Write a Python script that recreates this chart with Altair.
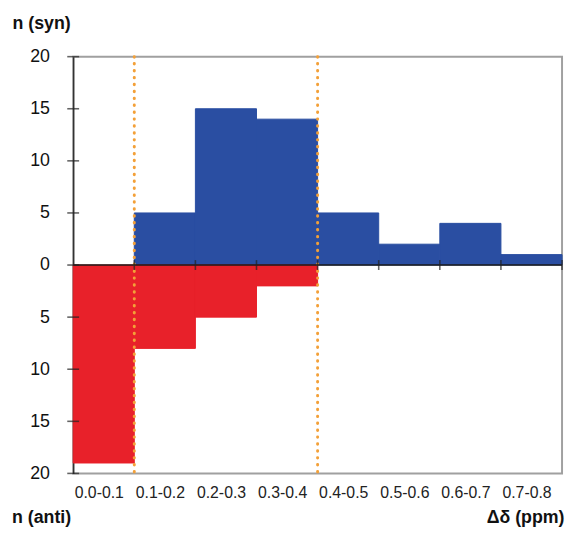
import altair as alt
import pandas as pd

# ---- data ----
bin_lo = [0.0, 0.1, 0.2, 0.3, 0.4, 0.5, 0.6, 0.7]
bin_hi = [0.1, 0.2, 0.3, 0.4, 0.5, 0.6, 0.7, 0.8]
syn = [0, 5, 15, 14, 5, 2, 4, 1]
anti = [19, 8, 5, 2, 0, 0, 0, 0]
dividers = [0.1, 0.4]
y_ticks = [-20, -15, -10, -5, 0, 5, 10, 15, 20]

BLUE = "#2a4ea2"
RED = "#e8212a"
ORANGE = "#f3a038"
FONT = "Liberation Sans"

rows = []
for lo, hi, s, a in zip(bin_lo, bin_hi, syn, anti):
    rows.append({"lo": lo, "hi": hi, "v": s, "series": "syn"})
    rows.append({"lo": lo, "hi": hi, "v": -a, "series": "anti"})
bars_df = pd.DataFrame(rows)
centers = [round((lo + hi) / 2, 3) for lo, hi in zip(bin_lo, bin_hi)]

x_scale = alt.Scale(domain=[bin_lo[0], bin_hi[-1]], nice=False, zero=False)
y_scale = alt.Scale(domain=[y_ticks[0], y_ticks[-1]], nice=False)
c_scale = alt.Scale(domain=["syn", "anti"], range=[BLUE, RED])

x_axis = alt.Axis(
    values=centers,
    labelExpr="format(datum.value - 0.05, '.1f') + '-' + format(datum.value + 0.05, '.1f')",
    ticks=False, domain=False, grid=False,
    labelFont=FONT, labelFontSize=16, labelColor="#222", labelPadding=11,
    labelOffset=-5, labelFlush=False, labelOverlap=False,
    title="Δδ (ppm)", titleFont=FONT, titleFontSize=18, titleFontWeight="bold",
    titleColor="#111", titleX=497, titleY=45, titleAlign="right", titleBaseline="middle",
)
y_axis = alt.Axis(
    values=y_ticks, labelExpr="abs(datum.value)",
    ticks=False, grid=False, domainColor="#333", domainWidth=1.5,
    labelFont=FONT, labelFontSize=18, labelColor="#111", labelPadding=24,
    title="n (syn)", titleFont=FONT, titleFontSize=18, titleFontWeight="bold",
    titleColor="#111", titleAngle=0, titleX=-62, titleY=-33, titleAlign="left",
    titleBaseline="middle",
)

base = alt.Chart(bars_df).transform_filter("datum.v != 0")
bars = base.mark_rect(strokeWidth=1).encode(
    x=alt.X("lo:Q", scale=x_scale, axis=x_axis),
    x2="hi:Q",
    y=alt.Y("v:Q", scale=y_scale, axis=y_axis),
    y2=alt.datum(0),
    color=alt.Color("series:N", scale=c_scale, legend=None),
    stroke=alt.Stroke("series:N", scale=c_scale, legend=None),
)

div_df = pd.DataFrame({"x": dividers})
div_lines = alt.Chart(div_df).mark_rule(
    color=ORANGE, strokeWidth=3, strokeDash=[0.5, 6.5], strokeCap="round"
).encode(x=alt.X("x:Q", scale=x_scale))

zero_df = pd.DataFrame({"y": [0]})
zero_line = alt.Chart(zero_df).mark_rule(color="#1a1a1a", strokeWidth=1.6).encode(
    y=alt.Y("y:Q", scale=y_scale)
)

bticks_df = pd.DataFrame({"x": bin_hi, "y": [0] * len(bin_hi)})
zero_ticks = alt.Chart(bticks_df).mark_tick(
    orient="vertical", color="#222", size=10, thickness=1.6
).encode(x=alt.X("x:Q", scale=x_scale), y=alt.Y("y:Q", scale=y_scale))

lticks_df = pd.DataFrame({"x": [bin_lo[0]] * len(y_ticks), "y": y_ticks})
left_ticks = alt.Chart(lticks_df).mark_tick(
    orient="horizontal", color="#222", size=12, thickness=1.6
).encode(x=alt.X("x:Q", scale=x_scale), y=alt.Y("y:Q", scale=y_scale))

anti_df = pd.DataFrame({"t": ["n (anti)"]})
anti_label = alt.Chart(anti_df).mark_text(
    font=FONT, fontSize=18, fontWeight="bold", color="#111", align="left", baseline="middle"
).encode(text="t:N", x=alt.value(-62), y=alt.value(467))

chart = alt.layer(
    bars, div_lines, zero_line, zero_ticks, left_ticks, anti_label
).properties(
    width=495, height=422,
    autosize=alt.AutoSizeParams(type="none"),
    padding={"left": 66, "top": 46, "right": 3, "bottom": 52},
    background="white",
).configure_view(stroke="#a0a0a0", strokeWidth=2)

chart.save("out.html", embed_options={"renderer": "svg", "actions": False})
